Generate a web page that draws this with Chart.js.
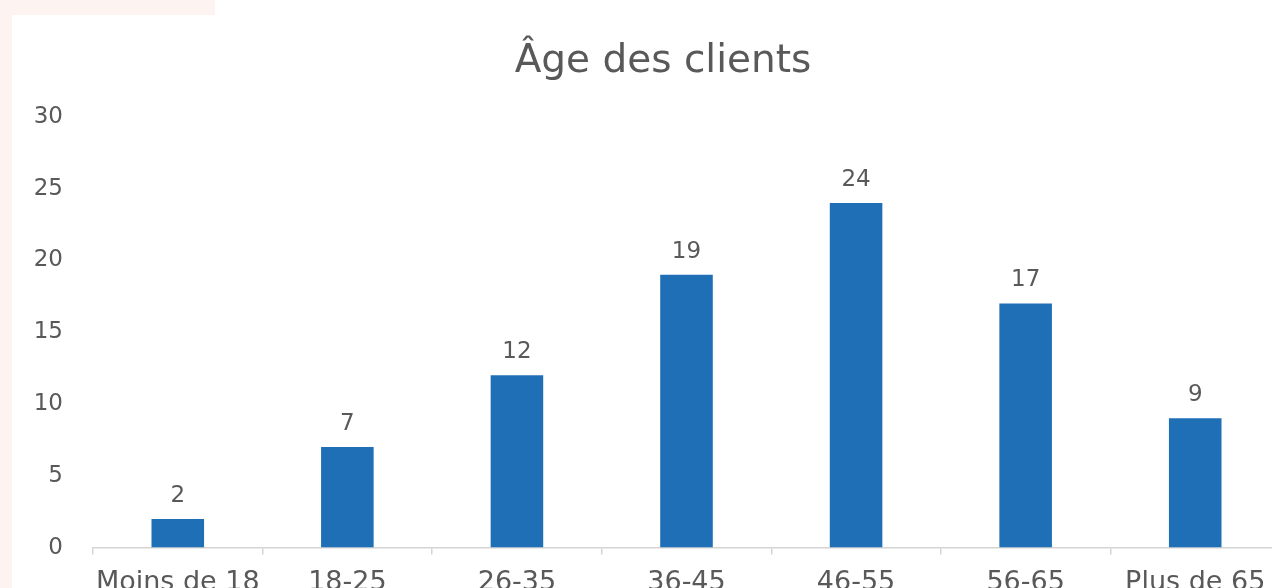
<!DOCTYPE html>
<html>
<head>
<meta charset="utf-8">
<script src="https://cdn.jsdelivr.net/npm/chart.js@4"></script>
<style>
	html, body { margin: 0; padding: 0; background: #fff; overflow: hidden; width: 1272px; height: 588px; }
	.strip-left { position: absolute; left: 0; top: 0; width: 12px; height: 588px; background: #fdf3f0; }
	.strip-top { position: absolute; left: 0; top: 0; width: 215px; height: 15px; background: #fdf3f0; }
	#wrap { position: absolute; left: 0; top: 0; width: 1330px; height: 616px; }
</style>
</head>
<body>
<div class="strip-left"></div>
<div class="strip-top"></div>
<div id="wrap"><canvas id="age-chart"></canvas></div>
<script>
var categories = ['Moins de 18', '18-25', '26-35', '36-45', '46-55', '56-65', 'Plus de 65']
var clients = [2, 7, 12, 19, 24, 17, 9]
var yTicks = [0, 5, 10, 15, 20, 25, 30]

var textColor = '#595959'
var barColor = '#1f6fb6'

// values above the bars
var barLabels = {
	id: 'barLabels',
	afterDatasetsDraw: function(chart) {
		var ctx = chart.ctx
		var meta = chart.getDatasetMeta(0)
		ctx.save()
		ctx.font = '23px "DejaVu Sans"'
		ctx.fillStyle = textColor
		ctx.textAlign = 'center'
		ctx.textBaseline = 'alphabetic'
		meta.data.forEach(function(bar, i) {
			ctx.fillText(String(clients[i]), bar.x, bar.y - 17)
		})
		ctx.restore()
	}
}

var ctx = document.getElementById('age-chart').getContext('2d')
var myChart = new Chart(ctx, {
	type: 'bar',
	data: {
		labels: categories,
		datasets: [{
			data: clients,
			backgroundColor: barColor,
			borderWidth: 0,
			barPercentage: 0.31,
			categoryPercentage: 1
		}]
	},
	options: {
		responsive: true,
		maintainAspectRatio: false,
		animation: false,
		layout: { padding: { left: 0, right: 4, top: 0, bottom: 5 } },
		plugins: {
			legend: { display: false },
			tooltip: { enabled: false },
			title: {
				display: true,
				text: 'Âge des clients',
				color: textColor,
				font: { family: 'DejaVu Sans', size: 39, weight: 'normal' },
				padding: { top: 38, bottom: 32 }
			}
		},
		scales: {
			x: {
				grid: { offset: true, drawOnChartArea: false, drawTicks: true, tickLength: 7, color: '#d4d4d4', lineWidth: 1.5 },
				border: { display: true, color: '#d4d4d4', width: 1.5 },
				ticks: { color: textColor, font: { family: 'DejaVu Sans', size: 27 }, padding: 12, maxRotation: 0, autoSkip: false }
			},
			y: {
				min: 0,
				max: 30,
				afterFit: function(axis) { axis.width = 93 },
				afterBuildTicks: function(axis) { axis.ticks = yTicks.map(function(v) { return { value: v } }) },
				grid: { display: false, drawTicks: false },
				border: { display: false },
				ticks: { color: textColor, font: { family: 'DejaVu Sans', size: 23 }, padding: 30 }
			},
			// empty right-hand box, the plot runs past the right edge of the picture
			yRight: {
				type: 'linear',
				position: 'right',
				afterFit: function(axis) { axis.width = 46 },
				grid: { display: false, drawTicks: false },
				border: { display: false },
				ticks: { display: false }
			}
		}
	},
	plugins: [barLabels]
})
</script>
</body>
</html>
